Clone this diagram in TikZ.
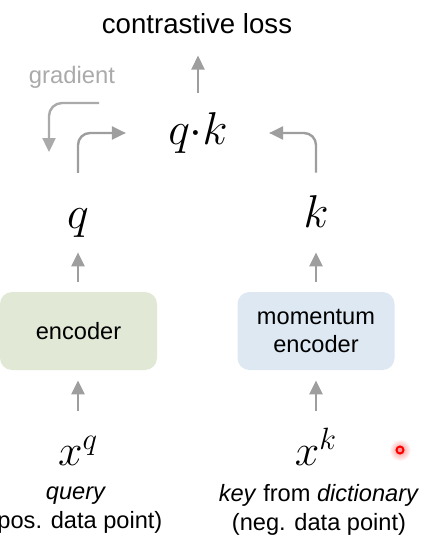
\RequirePackage{fix-cm}
\documentclass[tikz,border=0pt]{standalone}
\usepackage{fontspec}
\setmainfont{Liberation Sans}
\usetikzlibrary{arrows.meta}

\definecolor{encgreen}{RGB}{225,232,213}
\definecolor{encblue}{RGB}{221,232,242}
\definecolor{arrgray}{RGB}{158,158,158}
\definecolor{gradgray}{RGB}{170,170,170}

\tikzstyle{enc}     = [rounded corners=6pt, minimum width=78.5pt, minimum height=39pt, align=center, inner sep=0pt, font=\fontsize{11.8}{13.8}\selectfont]
\tikzstyle{arr}     = [-{Triangle[length=7pt,width=6.5pt]}, draw=arrgray, line width=1.2pt, rounded corners=6pt]
\tikzstyle{garr}    = [arr, draw=gradgray, rounded corners=6.5pt]
\tikzstyle{mathlbl} = [inner sep=0pt, font=\fontsize{23}{28}\selectfont]
\tikzstyle{xlbl}    = [inner sep=0pt, font=\fontsize{22}{26}\selectfont, anchor=base]
\tikzstyle{caption} = [align=center, inner sep=0pt, font=\fontsize{11.8}{14.5}\selectfont]

\begin{document}
\begin{tikzpicture}[x=0.5pt,y=-0.5pt]
      \useasboundingbox (0,0) rectangle (448,551);
      \node[inner sep=0pt, font=\fontsize{13.8}{16}\selectfont] (loss) at (197,24) {contrastive loss};
      \node[inner sep=0pt, text=gradgray, font=\fontsize{11.9}{14}\selectfont] (grad) at (72,77) {gradient};
      \node[mathlbl] (qk) at (198,133) {$q{\cdot}k$};
      \node[mathlbl, anchor=base] (q) at (78,228) {$q$};
      \node[mathlbl, anchor=base] (k) at (316,227) {$k$};
      \node[enc, fill=encgreen] (enc)  at (78.5,331) {encoder};
      \node[enc, fill=encblue]  (menc) at (316,331) {momentum\\encoder};
      \node[xlbl] (xq) at (78,465) {$x^q$};
      \node[xlbl] (xk) at (316,465) {$x^k$};
      \node[caption] (qtxt) at (76,510) {\textit{query}\\(pos. data point)};
      \node[caption] (ktxt) at (319,510) {\textit{key} from \textit{dictionary}\\(neg. data point)};
      % forward pass
      \draw[arr, shorten <=12pt, shorten >=5pt] (xq.north) -- (enc.south -| xq.north);
      \draw[arr, shorten <=8pt, shorten >=5pt] (xk.north) -- (menc.south -| xk.north);
      \draw[arr, shorten <=5pt, shorten >=7.5pt] (enc.north -| q.south) -- (q.south);
      \draw[arr, shorten <=5pt, shorten >=12.5pt] (menc.north) -- (k.south);
      \draw[arr] ([yshift=17.5pt]q.north) |- ([xshift=-21pt]qk.west);
      \draw[arr] ([yshift=11pt]k.north) |- ([xshift=20.5pt]qk.east);
      \draw[arr, shorten <=9.75pt, shorten >=10.5pt] (qk.north) -- (loss.south -| qk.north);
      % gradient
      \coordinate (gstart) at (99,103);
      \coordinate (gend) at (49,152);
      \draw[garr] (gstart) -| (gend);
      % pointer
      \shade[inner color=red!45, outer color=white] (400,450) circle (5.5pt);
      \draw[red, line width=1pt] (400,450) circle (1.75pt);
\end{tikzpicture}
\end{document}
